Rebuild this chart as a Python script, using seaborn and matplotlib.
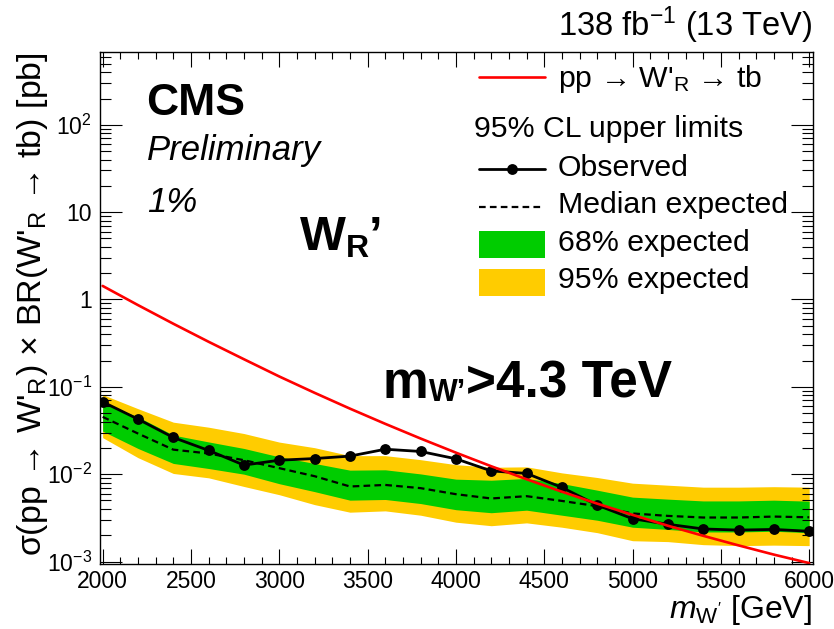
import numpy as np
import pandas as pd
import matplotlib
matplotlib.use("Agg")
import matplotlib.pyplot as plt
import seaborn as sns
from matplotlib.ticker import MultipleLocator, LogLocator, FuncFormatter, NullFormatter
from matplotlib.patches import Rectangle
from matplotlib.lines import Line2D

# W'_R -> tb mass points [GeV]
mass = [2000, 2200, 2400, 2600, 2800, 3000, 3200, 3400, 3600, 3800, 4000,
        4200, 4400, 4600, 4800, 5000, 5200, 5400, 5600, 5800, 6000]

# 95% CL upper limits on sigma x BR [pb]
observed = [0.0673, 0.0427, 0.0263, 0.0187, 0.0127, 0.01445, 0.0151, 0.0161, 0.0193, 0.0182, 0.0150,
            0.0109, 0.0102, 0.00705, 0.00442, 0.00309, 0.00267, 0.00236, 0.00229, 0.00233, 0.00222]
expected = [0.0453, 0.0292, 0.0191, 0.01726, 0.01445, 0.01172, 0.00948, 0.00723, 0.00753, 0.00692, 0.00590,
            0.00527, 0.00560, 0.00494, 0.00430, 0.00355, 0.00333, 0.00319, 0.00319, 0.00327, 0.00321]
exp_up1 = [0.0650, 0.0453, 0.0280, 0.0234, 0.0197, 0.0158, 0.01327, 0.01112, 0.01122, 0.01007, 0.00877,
           0.00853, 0.00893, 0.00781, 0.00656, 0.00546, 0.00518, 0.00494, 0.00494, 0.00504, 0.00491]
exp_dn1 = [0.0311, 0.0197, 0.01327, 0.01161, 0.0100, 0.00778, 0.00631, 0.00504, 0.00513, 0.00461, 0.00392,
           0.00362, 0.00387, 0.00339, 0.00297, 0.00247, 0.00233, 0.00218, 0.00218, 0.00222, 0.00214]
exp_up2 = [0.0815, 0.0562, 0.0394, 0.0345, 0.0292, 0.0233, 0.0201, 0.0163, 0.0163, 0.01466, 0.01285,
           0.0120, 0.01213, 0.01035, 0.00916, 0.00789, 0.00748, 0.00710, 0.00710, 0.00719, 0.00710]
exp_dn2 = [0.0262, 0.01545, 0.01019, 0.00908, 0.00723, 0.00582, 0.00448, 0.00367, 0.00380, 0.00339, 0.00282,
           0.00257, 0.00277, 0.00247, 0.00214, 0.00173, 0.00169, 0.00156, 0.00152, 0.00154, 0.00152]

# theory cross section pp -> W'_R -> tb [pb]
theory = [1.430, 0.863, 0.528, 0.328, 0.207, 0.1314, 0.0854, 0.0563, 0.0377, 0.0256, 0.01764,
          0.01232, 0.00875, 0.00630, 0.00460, 0.00342, 0.00257, 0.00197, 0.00153, 0.00120, 0.000959]

df = pd.DataFrame({"mass": mass, "observed": observed, "expected": expected,
                   "up1": exp_up1, "dn1": exp_dn1, "up2": exp_up2, "dn2": exp_dn2,
                   "theory": theory})

sns.set_theme(style="ticks")
plt.rcParams["font.family"] = ["Liberation Sans", "DejaVu Sans"]
plt.rcParams.update({
    "mathtext.fontset": "custom",
    "mathtext.rm": "Liberation Sans",
    "mathtext.it": "Liberation Sans:italic",
    "mathtext.bf": "Liberation Sans:bold",
    "axes.linewidth": 1.0,
    "axes.edgecolor": "black",
    "xtick.color": "black",
    "ytick.color": "black",
    "text.color": "black",
})

W, H = 834, 629
fig = plt.figure(figsize=(W / 100, H / 100), dpi=100)
fig.patch.set_facecolor("white")
ax = fig.add_axes([100 / W, 1 - 563.5 / H, 712.7 / W, 511.5 / H])
ax.set_facecolor("white")

YELLOW = "#ffcc00"
GREEN = "#00cc00"
RED = "#ff0000"
DASH = (0, (3.0, 1.9))
LW_OBS, LW_EXP, LW_TH = 2.0, 1.6, 1.9

ax.fill_between(df["mass"], df["dn2"], df["up2"], color=YELLOW, lw=0, zorder=1)
ax.fill_between(df["mass"], df["dn1"], df["up1"], color=GREEN, lw=0, zorder=1.1)
sns.lineplot(data=df, x="mass", y="expected", ax=ax, color="black", lw=LW_EXP,
             linestyle=DASH, zorder=2)
sns.lineplot(data=df, x="mass", y="observed", ax=ax, color="black", lw=LW_OBS,
             marker="o", markersize=7.8, markeredgewidth=0, zorder=3)
sns.lineplot(data=df, x="mass", y="theory", ax=ax, color=RED, lw=LW_TH, zorder=4)

ax.set_yscale("log")
ax.set_xlim(1985, 6020)
ax.set_ylim(9.49e-4, 682)
ax.set_axisbelow(False)

ax.xaxis.set_major_locator(MultipleLocator(500))
ax.xaxis.set_minor_locator(MultipleLocator(100))
ax.yaxis.set_major_locator(LogLocator(base=10, numticks=20))
ax.yaxis.set_minor_locator(LogLocator(base=10, subs=np.arange(2, 10), numticks=100))
ax.yaxis.set_minor_formatter(NullFormatter())


def decade_label(v, pos):
    e = int(round(np.log10(v)))
    if e == 0:
        return "1"
    if e == 1:
        return "10"
    return rf"$10^{{{e}}}$"


ax.yaxis.set_major_formatter(FuncFormatter(decade_label))
ax.tick_params(axis="both", which="both", direction="in", top=True, right=True,
               width=0.8, labelsize=16.5)
ax.tick_params(axis="x", which="major", length=10.8, pad=5)
ax.tick_params(axis="x", which="minor", length=5.2)
ax.tick_params(axis="y", which="major", length=15.8, pad=5.7)
ax.tick_params(axis="y", which="minor", length=8)

ax.set_xlabel("")
ax.set_ylabel("")
for s in ax.spines.values():
    s.set_visible(True)
    s.set_linewidth(1.0)
    s.set_zorder(5)


def fpos(x, y):
    return x / W, 1 - y / H


renderer = fig.canvas.get_renderer()


def chain(x, y, parts):
    """Draw text pieces one after another along a baseline at pixel (x, y)."""
    for s, size, dy, kw in parts:
        t = fig.text(*fpos(x, y + dy), s, fontsize=size, ha="left", va="baseline", **kw)
        x = t.get_window_extent(renderer).x1


# axis titles
fig.text(*fpos(812, 618), r"$m_{\mathrm{W'}}$ [GeV]", ha="right", va="baseline", fontsize=23)
fig.text(*fpos(41, 52),
         "σ(pp → W$'_{\\mathrm{R}}$) × BR(W$'_{\\mathrm{R}}$ → tb) [pb]",
         rotation=90, ha="right", va="baseline", fontsize=24.5, rotation_mode="anchor")

# header
fig.text(*fpos(812, 36.5), "138 fb$^{-1}$ (13 TeV)", ha="right", va="baseline", fontsize=23.5)
fig.text(*fpos(146, 115), "CMS", ha="left", va="baseline", fontsize=32, fontweight="bold")
fig.text(*fpos(147, 160), "Preliminary", ha="left", va="baseline", fontsize=25, style="italic")
fig.text(*fpos(147, 212), "1%", ha="left", va="baseline", fontsize=25, style="italic")

bold = {"fontweight": "bold"}
chain(300, 250, [("W", 35, 0, bold), ("R", 23, 7, bold), ("’", 35, 0, bold)])
chain(383, 398, [("m", 37, 0, bold), ("W’", 22, 3, bold), (">4.3 TeV", 37, 0, bold)])

# legend
LX0, LX1, TX = 479, 545, 558
LFS = 21.8
fig.add_artist(Line2D([LX0 / W, LX1 / W], [1 - 77 / H] * 2, color=RED, lw=LW_TH))
fig.text(*fpos(TX, 87.3), "pp → W$'_{\\mathrm{R}}$ → tb", ha="left", va="baseline", fontsize=LFS)
fig.text(*fpos(474, 137.3), "95% CL upper limits", ha="left", va="baseline", fontsize=LFS)
fig.add_artist(Line2D([LX0 / W, LX1 / W], [1 - 169 / H] * 2, color="black", lw=LW_OBS))
fig.add_artist(Line2D([(LX0 + LX1) / 2 / W], [1 - 169 / H], color="black", marker="o",
                      markersize=7.8, markeredgewidth=0))
fig.text(*fpos(TX, 176), "Observed", ha="left", va="baseline", fontsize=LFS)
fig.add_artist(Line2D([LX0 / W, 541 / W], [1 - 207 / H] * 2, color="black", lw=LW_EXP,
                      linestyle=DASH))
fig.text(*fpos(TX, 212.7), "Median expected", ha="left", va="baseline", fontsize=LFS)
fig.add_artist(Rectangle((LX0 / W, 1 - 258 / H), (LX1 - LX0) / W, 27 / H,
                         transform=fig.transFigure, color=GREEN, lw=0))
fig.text(*fpos(TX, 250.7), "68% expected", ha="left", va="baseline", fontsize=LFS)
fig.add_artist(Rectangle((LX0 / W, 1 - 296 / H), (LX1 - LX0) / W, 27 / H,
                         transform=fig.transFigure, color=YELLOW, lw=0))
fig.text(*fpos(TX, 288.3), "95% expected", ha="left", va="baseline", fontsize=LFS)

fig.savefig("out.png", dpi=100)
